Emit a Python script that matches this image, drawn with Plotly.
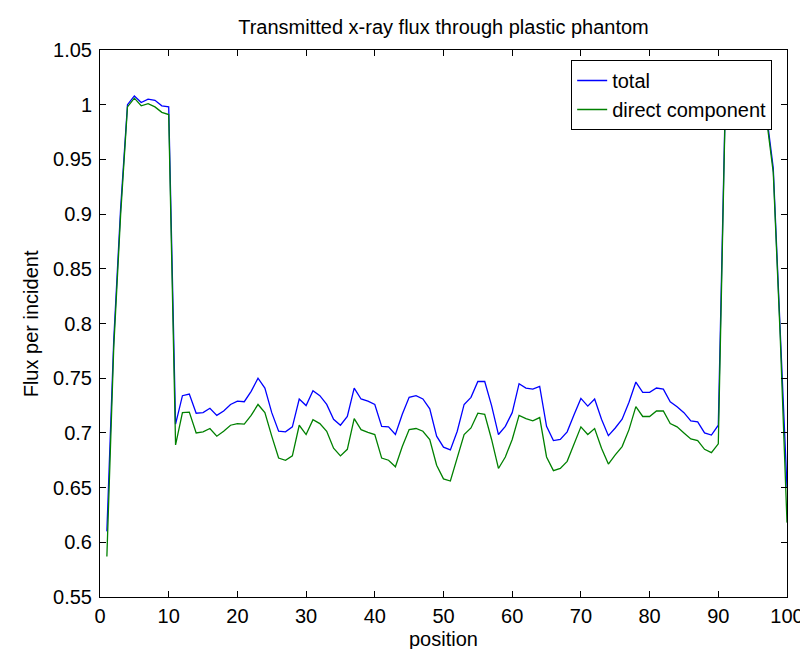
import plotly.graph_objects as go

positions = list(range(1, 101))

total = [
    0.610, 0.785, 0.905, 1.000, 1.008, 1.002, 1.005, 1.004, 0.999, 0.998,
    0.708, 0.734, 0.7355, 0.718, 0.7185, 0.7225, 0.716, 0.720, 0.726, 0.729,
    0.7285, 0.738, 0.750, 0.741, 0.7185, 0.7015, 0.701, 0.7055, 0.731, 0.725,
    0.7385, 0.734, 0.726, 0.7125, 0.707, 0.715, 0.741, 0.731, 0.729, 0.726,
    0.706, 0.7055, 0.6985, 0.717, 0.7325, 0.734, 0.731, 0.722, 0.697, 0.687,
    0.6845, 0.7015, 0.726, 0.7325, 0.747, 0.747, 0.725, 0.6985, 0.706, 0.7185,
    0.745, 0.741, 0.740, 0.7425, 0.706, 0.693, 0.694, 0.701, 0.7165, 0.7315,
    0.7245, 0.731, 0.7125, 0.6975, 0.7045, 0.7125, 0.728, 0.7465, 0.737, 0.737,
    0.741, 0.740, 0.7285, 0.724, 0.7185, 0.711, 0.710, 0.700, 0.698, 0.707,
    0.998, 1.003, 1.005, 1.004, 1.006, 1.002, 0.992, 0.942, 0.795, 0.650,
]

direct = [
    0.587, 0.778, 0.899, 0.998, 1.006, 0.999, 1.001, 0.998, 0.993, 0.991,
    0.689, 0.7185, 0.719, 0.700, 0.701, 0.704, 0.697, 0.7015, 0.707, 0.7085,
    0.708, 0.716, 0.726, 0.7185, 0.697, 0.677, 0.675, 0.679, 0.707, 0.6985,
    0.712, 0.7085, 0.7015, 0.686, 0.679, 0.685, 0.713, 0.703, 0.7005, 0.6985,
    0.677, 0.675, 0.669, 0.6875, 0.703, 0.704, 0.7015, 0.694, 0.6705, 0.658,
    0.656, 0.677, 0.6985, 0.7045, 0.718, 0.717, 0.694, 0.6675, 0.678, 0.694,
    0.716, 0.713, 0.711, 0.714, 0.678, 0.6655, 0.6675, 0.674, 0.689, 0.7055,
    0.6985, 0.704, 0.686, 0.6715, 0.680, 0.6875, 0.703, 0.724, 0.715, 0.715,
    0.720, 0.720, 0.7085, 0.7055, 0.700, 0.6945, 0.693, 0.685, 0.682, 0.690,
    0.994, 0.999, 1.001, 1.000, 1.002, 0.998, 0.988, 0.938, 0.790, 0.618,
]

x_ticks = [0, 10, 20, 30, 40, 50, 60, 70, 80, 90, 100]
y_ticks = [0.55, 0.6, 0.65, 0.7, 0.75, 0.8, 0.85, 0.9, 0.95, 1.0, 1.05]
y_tick_labels = ["0.55", "0.6", "0.65", "0.7", "0.75", "0.8", "0.85", "0.9", "0.95", "1", "1.05"]

FONT = "Liberation Sans, Arial, sans-serif"
FS = 20

L, R, T, B = 92, 787, 42, 589
W, H = 808, 649

fig = go.Figure()
fig.add_trace(go.Scatter(x=positions, y=total, mode="lines", name="total",
                         line=dict(color="#0000FF", width=1.3)))
fig.add_trace(go.Scatter(x=positions, y=direct, mode="lines", name="direct component",
                         line=dict(color="#008000", width=1.3)))

axis_common = dict(
    showline=True, linecolor="black", linewidth=1, mirror="ticks",
    ticks="inside", ticklen=6, tickcolor="black", showgrid=False, zeroline=False,
    tickfont=dict(family=FONT, size=FS, color="black"),
)

fig.update_xaxes(range=[0, 100], tickvals=x_ticks, ticklabelstandoff=1, **axis_common)
fig.update_yaxes(range=[0.55, 1.05], tickvals=y_ticks, ticktext=y_tick_labels,
                 ticklabelstandoff=3, **axis_common)

fig.update_layout(
    width=W, height=H,
    margin=dict(l=L, r=W - R, t=T, b=H - B, pad=0),
    paper_bgcolor="white", plot_bgcolor="white",
    font=dict(family=FONT, size=FS, color="black"),
    title=dict(text="Transmitted x-ray flux through plastic phantom",
               x=0.5, xref="paper", xanchor="center",
               y=1 - 19 / H, yref="container", yanchor="middle",
               font=dict(family=FONT, size=FS, color="black")),
    legend=dict(x=(772 - L) / (R - L), y=1 - (52 - T) / (B - T), xanchor="right", yanchor="top",
                bgcolor="white", bordercolor="black", borderwidth=1,
                font=dict(family=FONT, size=FS, color="black"),
                tracegroupgap=0, itemwidth=30),
    showlegend=True,
    annotations=[
        dict(text="position", xref="paper", yref="paper", x=0.5, y=-(631 - B) / (B - T),
             xanchor="center", yanchor="middle", showarrow=False,
             font=dict(family=FONT, size=FS, color="black")),
        dict(text="Flux per incident", xref="paper", yref="paper", x=-(L - 22) / (R - L), y=0.5,
             xanchor="center", yanchor="middle", showarrow=False, textangle=-90,
             font=dict(family=FONT, size=FS, color="black")),
    ],
)

fig.write_html("out.html")
